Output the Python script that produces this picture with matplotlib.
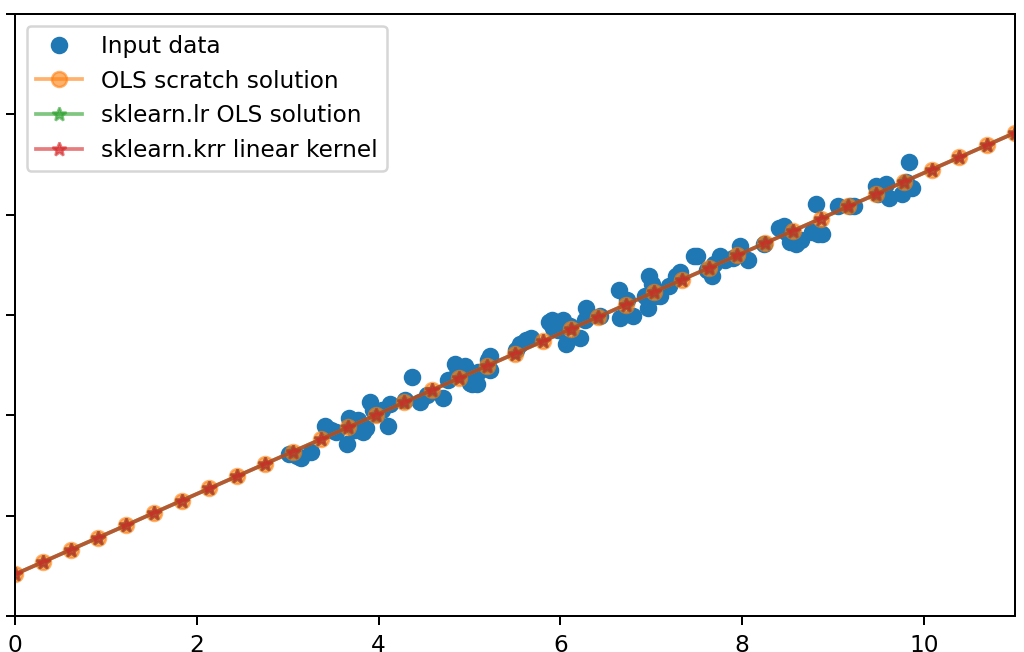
import matplotlib
matplotlib.use("Agg")
import matplotlib.pyplot as plt

plt.rcParams['font.size'] = 9.3

# noisy input points
x_data = [3.01, 3.10, 3.15, 3.26, 3.41, 3.48, 3.53, 3.65, 3.67, 3.71,
          3.74, 3.77, 3.83, 3.86, 3.91, 3.94, 3.97, 4.04, 4.10, 4.13,
          4.29, 4.37, 4.46, 4.53, 4.71, 4.76, 4.84, 4.86, 4.95, 5.01,
          5.03, 5.08, 5.09, 5.20, 5.23, 5.23, 5.51, 5.56, 5.62, 5.68,
          5.87, 5.91, 5.92, 5.97, 6.03, 6.06, 6.11, 6.22, 6.27, 6.28,
          6.44, 6.64, 6.66, 6.73, 6.80, 6.93, 6.96, 6.97, 7.01, 7.04,
          7.10, 7.19, 7.27, 7.32, 7.47, 7.50, 7.61, 7.67, 7.69, 7.76,
          7.81, 7.90, 7.98, 7.99, 8.06, 8.24, 8.40, 8.46, 8.48, 8.53,
          8.59, 8.65, 8.77, 8.81, 8.83, 8.88, 9.05, 9.19, 9.23, 9.47,
          9.49, 9.54, 9.58, 9.61, 9.76, 9.80, 9.83, 9.87]
y_data = [8.07, 7.97, 7.87, 8.17, 9.47, 9.27, 9.17, 8.57, 9.87, 9.57,
          9.27, 9.77, 9.17, 9.37, 10.66, 10.26, 10.06, 10.26, 9.47, 10.56,
          10.76, 11.91, 10.66, 11.01, 10.86, 11.76, 12.56, 12.06, 12.46, 11.61,
          11.56, 11.56, 12.16, 12.76, 12.95, 12.26, 13.25, 13.55, 13.75, 13.85,
          14.65, 14.75, 14.35, 14.25, 14.75, 13.55, 14.45, 13.85, 14.75, 15.35,
          14.95, 16.24, 14.85, 15.74, 14.95, 15.94, 15.35, 16.94, 16.54, 15.94,
          15.94, 16.44, 16.94, 17.14, 17.94, 17.94, 17.24, 16.94, 17.54, 17.94,
          17.74, 17.84, 18.44, 18.04, 17.74, 18.54, 19.33, 19.43, 19.13, 18.63,
          18.54, 18.73, 19.13, 20.53, 19.03, 19.03, 20.43, 20.43, 20.43, 21.43,
          21.03, 21.13, 21.52, 20.83, 21.03, 21.62, 22.62, 21.33]

# prediction grid and fitted values (all three models give the same line)
x_fit = [0.0, 0.306, 0.611, 0.917, 1.222, 1.528, 1.833, 2.139, 2.444, 2.75,
         3.056, 3.361, 3.667, 3.972, 4.278, 4.583, 4.889, 5.194, 5.5, 5.806,
         6.111, 6.417, 6.722, 7.028, 7.333, 7.639, 7.944, 8.25, 8.556, 8.861,
         9.167, 9.472, 9.778, 10.083, 10.389, 10.694, 11.0]
y_ols = [2.08, 2.69, 3.30, 3.91, 4.52, 5.14, 5.75, 6.36, 6.97, 7.58,
         8.19, 8.80, 9.41, 10.02, 10.64, 11.25, 11.86, 12.47, 13.08, 13.69,
         14.30, 14.91, 15.52, 16.14, 16.75, 17.36, 17.97, 18.58, 19.19, 19.80,
         20.41, 21.02, 21.64, 22.25, 22.86, 23.47, 24.08]
y_lr = y_ols
y_krr = y_ols

fig = plt.figure(figsize=(1024 / 180, 652 / 180), dpi=180)
ax = fig.add_axes([15 / 1024, 36 / 652, 1000 / 1024, 602 / 652])

ax.plot(x_data, y_data, 'o', label='Input data')
ax.plot(x_fit, y_ols, 'o-', alpha=0.6, label='OLS scratch solution')
ax.plot(x_fit, y_lr, '*-', alpha=0.6, label='sklearn.lr OLS solution')
ax.plot(x_fit, y_krr, '*-', alpha=0.6, label='sklearn.krr linear kernel')

ax.set_xlim(0, 11)
ax.set_ylim(0, 30)
ax.set_yticks([0, 5, 10, 15, 20, 25, 30])
ax.set_yticklabels([])
ax.legend(loc='upper left')

fig.savefig('out.png', dpi=180)
